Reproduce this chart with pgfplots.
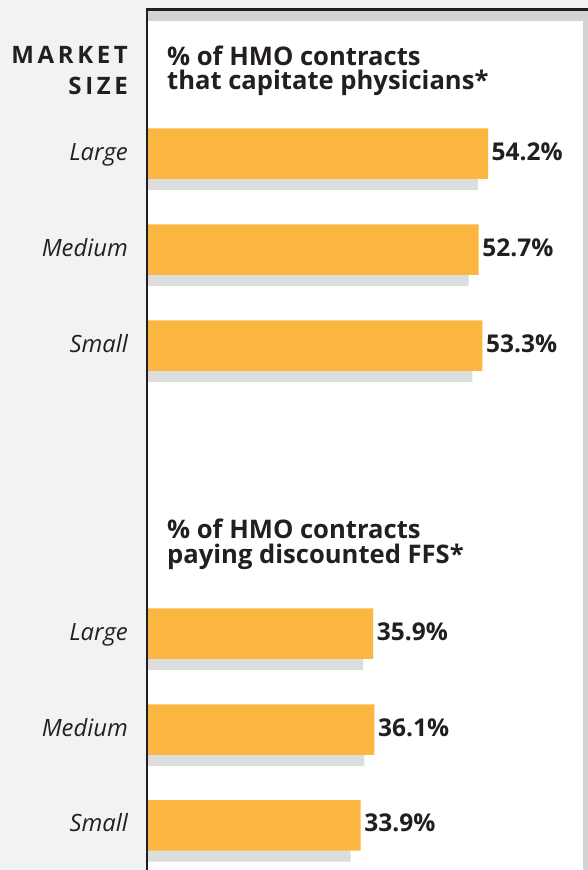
\documentclass[border=0pt]{standalone}
\usepackage{fontspec}
\setmainfont{Open Sans}
\newfontfamily\spaced[LetterSpace=15]{Open Sans}
\usepackage{pgfplots}
\pgfplotsset{compat=1.18}
\definecolor{bgc}{RGB}{241,242,244}
\definecolor{bandc}{RGB}{209,210,212}
\definecolor{shadowc}{RGB}{220,221,223}
\definecolor{barc}{RGB}{251,183,65}
\definecolor{dark}{RGB}{35,31,32}

\begin{document}
\begin{tikzpicture}
\useasboundingbox (0,0) rectangle (588pt,870pt);
% page and panel
\fill[bgc] (0,0) rectangle (588pt,870pt);
\fill[white] (148pt,0) rectangle (588pt,859pt);
\fill[bandc] (148pt,849pt) rectangle (588pt,859pt);
\fill[bandc] (583pt,0) rectangle (588pt,859pt);
\draw[dark, line width=2.6pt] (147pt,0) -- (147pt,860.3pt) -- (588pt,860.3pt);

\begin{axis}[
  at={(148pt,0pt)}, anchor=south west,
  scale only axis, width=440pt, height=870pt,
  xmin=0, xmax=70.14, ymin=0, ymax=870, y dir=reverse,
  axis line style={draw=none}, major tick length=0pt,
  xtick=\empty,
  ytick={153.5,249.5,345.5,633.5,729.5,825.4},
  yticklabels={Large,Medium,Small,Large,Medium,Small},
  yticklabel style={font=\itshape\fontsize{23.8}{26}\selectfont, text=dark,
    inner sep=0pt, anchor=base east, xshift=-20pt, yshift=-6.5pt},
  /pgf/number format/assume math mode=true,
  clip=false,
]
% shadow bars
\addplot[xbar, bar width=50.5pt, bar shift=0pt, fill=shadowc, draw=none]
  coordinates {(52.6,164.5) (51.1,260.5) (51.7,356.5) (34.3,644.5) (34.5,740.5) (32.3,836.4)};
% values
\addplot[xbar, bar width=50.5pt, bar shift=0pt, fill=barc, draw=none,
  point meta=x,
  nodes near coords={\pgfmathprintnumber[fixed,fixed zerofill,precision=1]{\pgfplotspointmeta}\%},
  every node near coord/.append style={font=\bfseries\fontsize{24.5}{26}\selectfont,
    text=dark, inner sep=0pt, anchor=base west, xshift=3.5pt, yshift=-6.5pt}]
  coordinates {(54.2,153.5) (52.7,249.5) (53.3,345.5) (35.9,633.5) (36.1,729.5) (33.9,825.4)};
\end{axis}

% headings
\node[anchor=base east, inner sep=0pt, text=dark, font=\spaced\bfseries\fontsize{24}{26}\selectfont] at (128pt,806.7pt) {MARKET};
\node[anchor=base east, inner sep=0pt, text=dark, font=\spaced\bfseries\fontsize{24}{26}\selectfont] at (128pt,775pt) {SIZE};
\node[anchor=base west, inner sep=0pt, text=dark, font=\bfseries\fontsize{25.6}{27}\selectfont] at (167pt,804.3pt) {\% of HMO contracts};
\node[anchor=base west, inner sep=0pt, text=dark, font=\bfseries\fontsize{25.6}{27}\selectfont] at (167pt,780.7pt) {that capitate physicians*};
\node[anchor=base west, inner sep=0pt, text=dark, font=\bfseries\fontsize{25.6}{27}\selectfont] at (167pt,331.7pt) {\% of HMO contracts};
\node[anchor=base west, inner sep=0pt, text=dark, font=\bfseries\fontsize{25.6}{27}\selectfont] at (167pt,306.5pt) {paying discounted FFS*};
\end{tikzpicture}
\end{document}
